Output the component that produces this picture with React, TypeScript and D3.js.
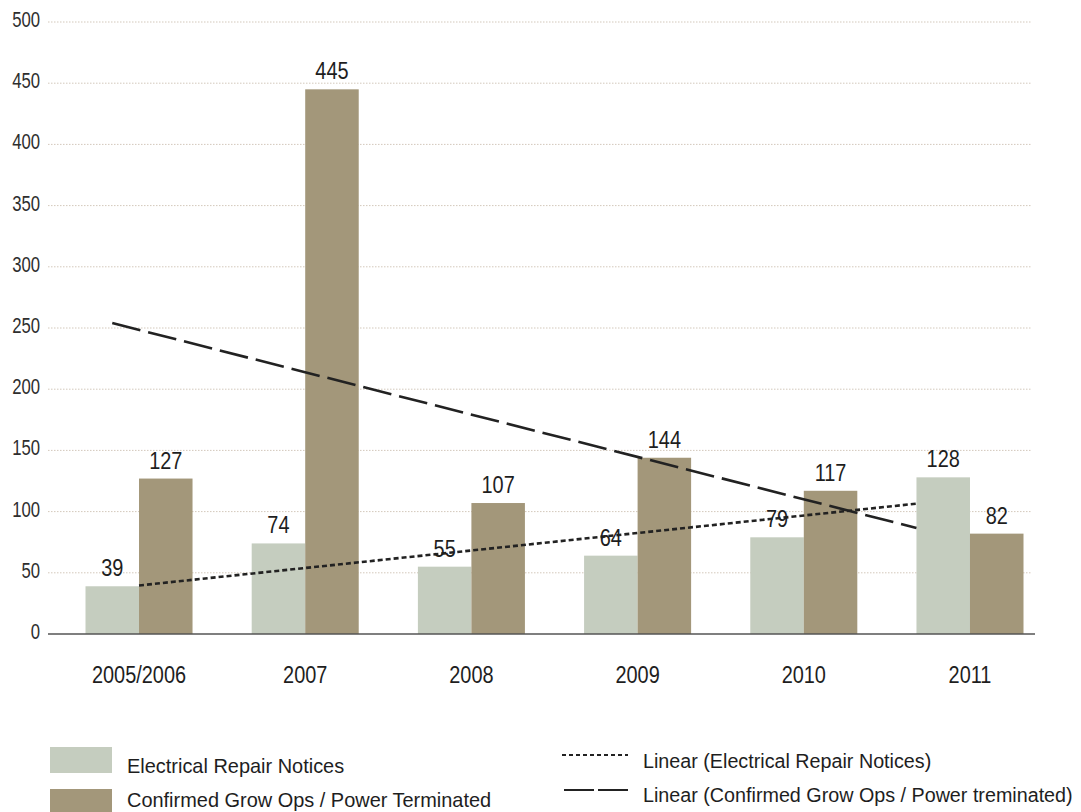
import React from 'react';
import * as d3 from 'd3';

const years = ['2005/2006', '2007', '2008', '2009', '2010', '2011'];
const repairNotices = [39, 74, 55, 64, 79, 128];
const growOps = [127, 445, 107, 144, 117, 82];
const yTicks = [0, 50, 100, 150, 200, 250, 300, 350, 400, 450, 500];

const W = 1081;
const H = 812;
const FONT = "'Liberation Sans', Arial, sans-serif";
const LIGHT = '#c5cdbf';
const BROWN = '#a3977a';
const INK = '#1e1e1e';

// least squares fit over category index 1..n, like Excel's linear trendline
function linearFit(values: number[]) {
  const xs = values.map((_, i) => i + 1);
  const mx = d3.mean(xs)!;
  const my = d3.mean(values)!;
  const sxy = d3.sum(xs, (x, i) => (x - mx) * (values[i] - my));
  const sxx = d3.sum(xs, x => (x - mx) * (x - mx));
  const slope = sxy / sxx;
  return (x: number) => my + slope * (x - mx);
}

// condensed look: squeeze text horizontally around its anchor
function Narrow(props: {
  x: number; y: number; size: number; sx: number;
  anchor?: 'start' | 'middle' | 'end'; fill?: string; children: React.ReactNode;
}) {
  const { x, y, size, sx, anchor = 'start', fill = INK, children } = props;
  return (
    <text
      transform={`translate(${x},${y}) scale(${sx},1)`}
      textAnchor={anchor}
      fontSize={size}
      fill={fill}
    >
      {children}
    </text>
  );
}

export default function App() {
  const gridLeft = 48;
  const gridRight = 1032;

  const x = d3.scaleBand<string>()
    .domain(years)
    .range([85.5, 1023.5])
    .paddingInner(0.356)
    .paddingOuter(0);
  const half = x.bandwidth() / 2;

  const y = d3.scaleLinear().domain([0, 500]).range([634, 22]);

  const fitRepair = linearFit(repairNotices);
  const fitGrow = linearFit(growOps);
  const last = years.length;

  const line = d3.line<[number, number]>().x(d => d[0]).y(d => d[1]);

  const repairTrend: [number, number][] = [
    [x(years[0])! + half, y(fitRepair(1))],
    [x(years[last - 1])! + 2, y(fitRepair(last))],
  ];
  const growTrend: [number, number][] = [
    [x(years[0])! + half / 2, y(fitGrow(1))],
    [x(years[last - 1])!, y(fitGrow(last))],
  ];

  return (
    <svg
      width={W}
      height={H}
      style={{ position: 'absolute', left: 0, top: 0, background: '#fff' }}
      fontFamily={FONT}
    >
      {/* grid */}
      {yTicks.filter(t => t > 0).map(t => (
        <line
          key={'g' + t}
          x1={gridLeft}
          x2={gridRight}
          y1={y(t)}
          y2={y(t)}
          stroke="#d3c8bb"
          strokeWidth={1}
          strokeDasharray="1.5,1.5"
        />
      ))}
      {yTicks.map(t => (
        <Narrow key={'t' + t} x={40} y={y(t) + 5} size={22} sx={0.76} anchor="end" fill="#2e2e2e">
          {t}
        </Narrow>
      ))}

      {/* bars */}
      {years.map((yr, i) => (
        <g key={yr}>
          <rect
            x={x(yr)!}
            y={y(repairNotices[i])}
            width={half}
            height={y(0) - y(repairNotices[i])}
            fill={LIGHT}
          />
          <rect
            x={x(yr)! + half}
            y={y(growOps[i])}
            width={half}
            height={y(0) - y(growOps[i])}
            fill={BROWN}
          />
        </g>
      ))}

      {/* axis */}
      <line x1={gridLeft} x2={1035} y1={y(0)} y2={y(0)} stroke="#555" strokeWidth={1.5} />

      {/* trend lines */}
      <path d={line(repairTrend)!} fill="none" stroke="#222" strokeWidth={2.6} strokeDasharray="5,3" />
      <path d={line(growTrend)!} fill="none" stroke="#222" strokeWidth={2.6} strokeDasharray="29,8" />

      {/* value and category labels */}
      {years.map((yr, i) => (
        <g key={'l' + yr}>
          <Narrow x={x(yr)! + half / 2} y={y(repairNotices[i]) - 10} size={24} sx={0.83} anchor="middle">
            {repairNotices[i]}
          </Narrow>
          <Narrow x={x(yr)! + half * 1.5} y={y(growOps[i]) - 10} size={24} sx={0.83} anchor="middle">
            {growOps[i]}
          </Narrow>
          <Narrow x={x(yr)! + half} y={683} size={24} sx={0.83} anchor="middle">
            {yr}
          </Narrow>
        </g>
      ))}

      {/* legend */}
      <rect x={50} y={747} width={62} height={26} fill={LIGHT} />
      <Narrow x={127} y={773} size={21} sx={0.95}>Electrical Repair Notices</Narrow>
      <rect x={50} y={789} width={62} height={26} fill={BROWN} />
      <Narrow x={127} y={807} size={21} sx={0.95}>Confirmed Grow Ops / Power Terminated</Narrow>

      <line x1={562} x2={628} y1={755} y2={755} stroke="#222" strokeWidth={2} strokeDasharray="4,3" />
      <Narrow x={643} y={768} size={21} sx={0.94}>Linear (Electrical Repair Notices)</Narrow>
      <line x1={564} x2={628} y1={790} y2={790} stroke="#222" strokeWidth={2.2} strokeDasharray="30,4" />
      <Narrow x={643} y={802} size={21} sx={0.94}>Linear (Confirmed Grow Ops / Power treminated)</Narrow>
    </svg>
  );
}
